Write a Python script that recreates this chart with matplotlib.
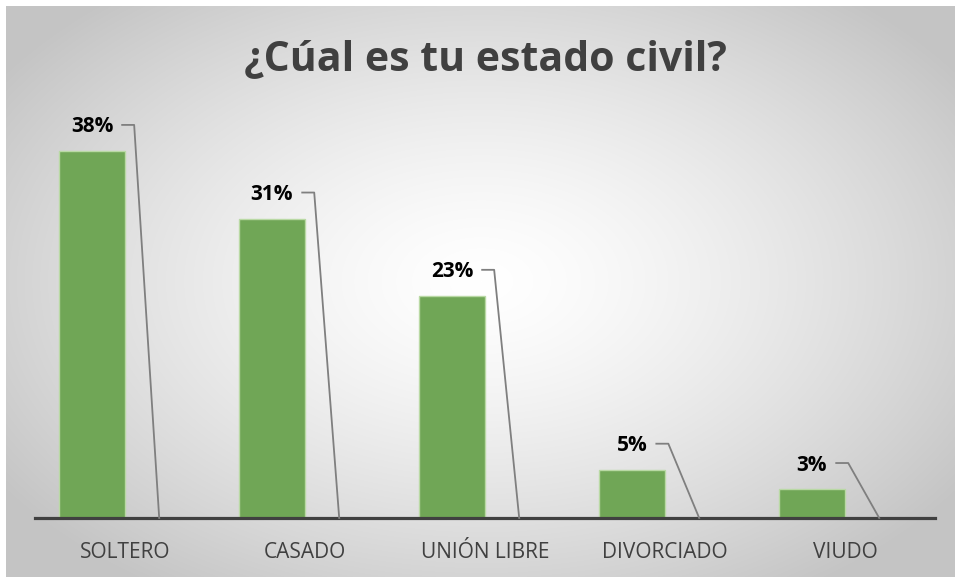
import numpy as np
import matplotlib
matplotlib.use("Agg")
import matplotlib.pyplot as plt
from matplotlib.transforms import IdentityTransform

categories = ["SOLTERO", "CASADO", "UNIÓN LIBRE", "DIVORCIADO", "VIUDO"]
values = [38, 31, 23, 5, 3]
labels = ["38%", "31%", "23%", "5%", "3%"]

plt.rcParams["font.family"] = ["Open Sans", "DejaVu Sans"]

W, H, DPI = 955, 577, 100
fig = plt.figure(figsize=(W / DPI, H / DPI), dpi=DPI, facecolor="white")

# radial grey-to-white background of the chart area, placed in pixels
yy, xx = np.mgrid[0:H - 6, 0:W - 6]
r = np.sqrt(((xx - 475) / 580.0) ** 2 + ((yy - 275) / 370.0) ** 2)
shade = 1.0 - 0.23 * np.clip(r, 0, 1) ** 1.4
fig.figimage(np.dstack([shade] * 3), xo=6, yo=0, origin="upper", zorder=0)

ax = fig.add_axes([35 / W, 1 - 518 / H, 900 / W, 434.7 / H])
ax.set_zorder(2)
ax.patch.set_alpha(0)
x = np.arange(len(categories))
bw = 0.367
ax.bar(x, values, width=-bw, align="edge", color="#70a656",
       edgecolor="#b9d9a4", linewidth=1.0, zorder=2)
ax.set_xlim(-0.5, 4.5)
ax.set_ylim(0, 45)
for s in ["top", "right", "left"]:
    ax.spines[s].set_visible(False)
ax.spines["bottom"].set_color("#404040")
ax.spines["bottom"].set_linewidth(2.3)
ax.spines["bottom"].set_zorder(4)
ax.set_yticks([])
ax.set_xticks(x)
ax.set_xticklabels(categories, fontsize=15, color="#404040")
ax.tick_params(axis="x", length=0, pad=17)

fig.text(485 / W, 1 - 60 / H, "¿Cúal es tu estado civil?", fontsize=29.5,
         fontweight="bold", color="#404040", ha="center", va="center",
         zorder=3)

# data labels with callout leader lines to the axis
texts = []
for xi, v, lab in zip(x, values, labels):
    t = ax.annotate(lab, xy=(xi - bw / 2, v), xytext=(0, 24),
                    textcoords="offset pixels", ha="center", va="center",
                    fontsize=15, fontweight="bold", color="black")
    texts.append(t)

fig.canvas.draw()
renderer = fig.canvas.get_renderer()
for t, xi in zip(texts, x):
    bb = t.get_window_extent(renderer)
    ymid = (bb.y0 + bb.y1) / 2 + 2
    x1 = bb.x1 + 9
    x2 = bb.x1 + 21
    ex, ey = ax.transData.transform((xi + 0.19, 0))
    fig.add_artist(plt.Line2D([x1, x2, ex], [ymid, ymid, ey],
                              transform=IdentityTransform(),
                              color="#7f7f7f", linewidth=1.3, zorder=3))

fig.savefig("out.png", dpi=DPI)
